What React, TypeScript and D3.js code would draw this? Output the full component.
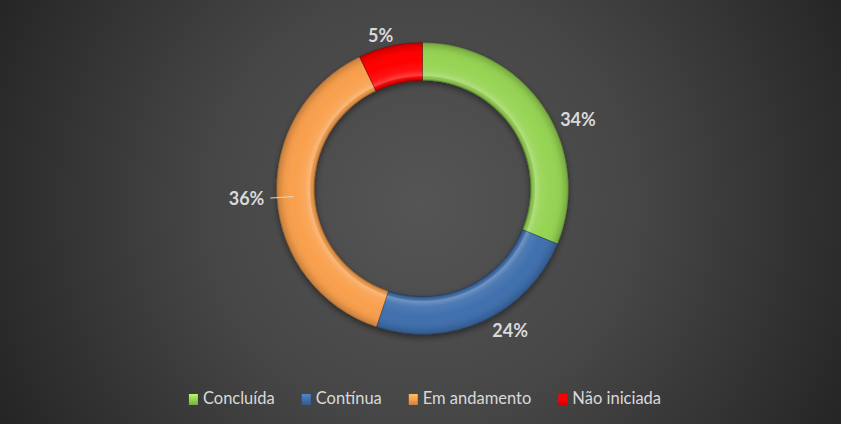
import React, { useEffect, useRef } from "react";
import * as d3 from "d3";

// Categories (legend order = drawing order, clockwise from 12 o'clock)
const categories = ["Concluída", "Contínua", "Em andamento", "Não iniciada"];
// Slice sizes as drawn in the reference (percent of the ring)
const values = [31.2, 23.9, 37.8, 7.1];
// Data label texts as shown on the chart
const labels = ["34%", "24%", "36%", "5%"];
const colors = ["#96d453", "#4070ae", "#f9a04e", "#ff0000"];

const W = 841;
const H = 424;

export default function App() {
  const ref = useRef<SVGSVGElement | null>(null);

  useEffect(() => {
    const svg = d3.select(ref.current);
    svg.selectAll("*").remove();
    const defs = svg.append("defs");

    // background
    const bg = defs
      .append("radialGradient")
      .attr("id", "bg")
      .attr("gradientUnits", "userSpaceOnUse")
      .attr("cx", 422)
      .attr("cy", 205)
      .attr("r", 480);
    bg.append("stop").attr("offset", 0).attr("stop-color", "#555555");
    bg.append("stop").attr("offset", 0.45).attr("stop-color", "#464646");
    bg.append("stop").attr("offset", 1).attr("stop-color", "#242424");
    svg.append("rect").attr("width", W).attr("height", H).attr("fill", "url(#bg)");

    const cx = 422.5;
    const cy = 188.5;
    const rOut = 146;
    const rIn = 108;

    // bevel overlay (in the translated, donut-centred user space)
    const bev = defs
      .append("radialGradient")
      .attr("id", "bevel")
      .attr("gradientUnits", "userSpaceOnUse")
      .attr("cx", 0)
      .attr("cy", 0)
      .attr("r", rOut);
    const f0 = rIn / rOut;
    const bevStops: [number, string, number][] = [
      [f0, "#000", 0.35],
      [f0 + 0.015, "#000", 0.08],
      [f0 + 0.035, "#fff", 0.25],
      [f0 + 0.07, "#fff", 0.08],
      [f0 + 0.14, "#fff", 0.0],
      [0.95, "#000", 0.04],
      [0.985, "#000", 0.16],
      [1, "#000", 0.28],
    ];
    bevStops.forEach(([o, c, op]) =>
      bev.append("stop").attr("offset", o).attr("stop-color", c).attr("stop-opacity", op)
    );

    const shadow = defs
      .append("filter")
      .attr("id", "shadow")
      .attr("x", "-20%")
      .attr("y", "-20%")
      .attr("width", "140%")
      .attr("height", "140%");
    shadow
      .append("feDropShadow")
      .attr("dx", 0)
      .attr("dy", 3)
      .attr("stdDeviation", 3)
      .attr("flood-color", "#000")
      .attr("flood-opacity", 0.45);

    const pie = d3
      .pie<number>()
      .sort(null)
      .value((d) => d)
      .startAngle(0)
      .endAngle(2 * Math.PI);
    const arcs = pie(values);
    const arc = d3.arc<d3.PieArcDatum<number>>().innerRadius(rIn).outerRadius(rOut);

    const g = svg.append("g").attr("transform", `translate(${cx},${cy})`);
    const ring = g.append("g").attr("filter", "url(#shadow)");
    ring
      .selectAll("path.base")
      .data(arcs)
      .join("path")
      .attr("class", "base")
      .attr("d", arc as any)
      .attr("fill", (_d, i) => colors[i]);

    g.append("g")
      .selectAll("path")
      .data(arcs)
      .join("path")
      .attr("d", arc as any)
      .attr("fill", "url(#bevel)")
      .attr("stroke", "rgba(0,0,0,0.22)")
      .attr("stroke-width", 0.8);

    // data labels
    const deg = Math.PI / 180;
    // label placement: angle nudge (deg) and radius for each slice's label
    const labelNudge = [10, -7, 0, -2.5];
    const labelRad = [170, 167, 158.5, 159];
    const lblG = svg.append("g").attr("transform", `translate(${cx},${cy})`);
    arcs.forEach((a, i) => {
      const mid = (a.startAngle + a.endAngle) / 2 + labelNudge[i] * deg;
      const r = labelRad[i];
      const x = r * Math.sin(mid);
      const y = -r * Math.cos(mid);
      const isLeader = i === 2;
      if (isLeader) {
        const r1 = rOut + 6.5;
        const r2 = rOut - 17;
        lblG
          .append("line")
          .attr("x1", r1 * Math.sin(mid))
          .attr("y1", -r1 * Math.cos(mid))
          .attr("x2", r2 * Math.sin(mid))
          .attr("y2", -r2 * Math.cos(mid))
          .attr("stroke", "#d9d9d9")
          .attr("stroke-width", 1);
      }
      lblG
        .append("text")
        .attr("x", x)
        .attr("y", y)
        .attr("dy", "0.36em")
        .attr("text-anchor", isLeader ? "end" : "middle")
        .attr("font-family", "Lato, 'Open Sans', sans-serif")
        .attr("font-weight", 700)
        .attr("font-size", 18)
        .attr("fill", "#d9d9d9")
        .text(labels[i]);
    });

    // legend
    const leg = svg.append("g");
    const items = leg.selectAll("g").data(categories).join("g");
    const mk = (i: number) => `lg${i}`;
    categories.forEach((_c, i) => {
      const lg = defs
        .append("linearGradient")
        .attr("id", mk(i))
        .attr("x1", 0)
        .attr("y1", 0)
        .attr("x2", 0)
        .attr("y2", 1);
      lg.append("stop").attr("offset", 0).attr("stop-color", d3.color(colors[i])!.brighter(0.5).toString());
      lg.append("stop").attr("offset", 0.5).attr("stop-color", colors[i]);
      lg.append("stop").attr("offset", 1).attr("stop-color", d3.color(colors[i])!.darker(0.6).toString());
    });
    items
      .append("rect")
      .attr("x", 0)
      .attr("y", -10)
      .attr("width", 9)
      .attr("height", 11)
      .attr("fill", (_d, i) => `url(#${mk(i)})`);
    const texts = items
      .append("text")
      .attr("x", 14)
      .attr("y", 0)
      .attr("font-family", "Lato, 'Open Sans', sans-serif")
      .attr("font-size", 16.5)
      .attr("fill", "#d9d9d9")
      .text((d) => d);
    const widths: number[] = [];
    texts.each(function () {
      widths.push((this as SVGTextElement).getComputedTextLength());
    });
    const gap = 27;
    const itemW = widths.map((w) => 14 + w);
    const total = d3.sum(itemW) + gap * (itemW.length - 1);
    let x0 = 425 - total / 2;
    items.attr("transform", (_d, i) => {
      const x = x0;
      x0 += itemW[i] + gap;
      return `translate(${x},404)`;
    });
  }, []);

  return (
    <svg
      ref={ref}
      width={W}
      height={H}
      style={{ position: "absolute", left: 0, top: 0, display: "block" }}
    />
  );
}
